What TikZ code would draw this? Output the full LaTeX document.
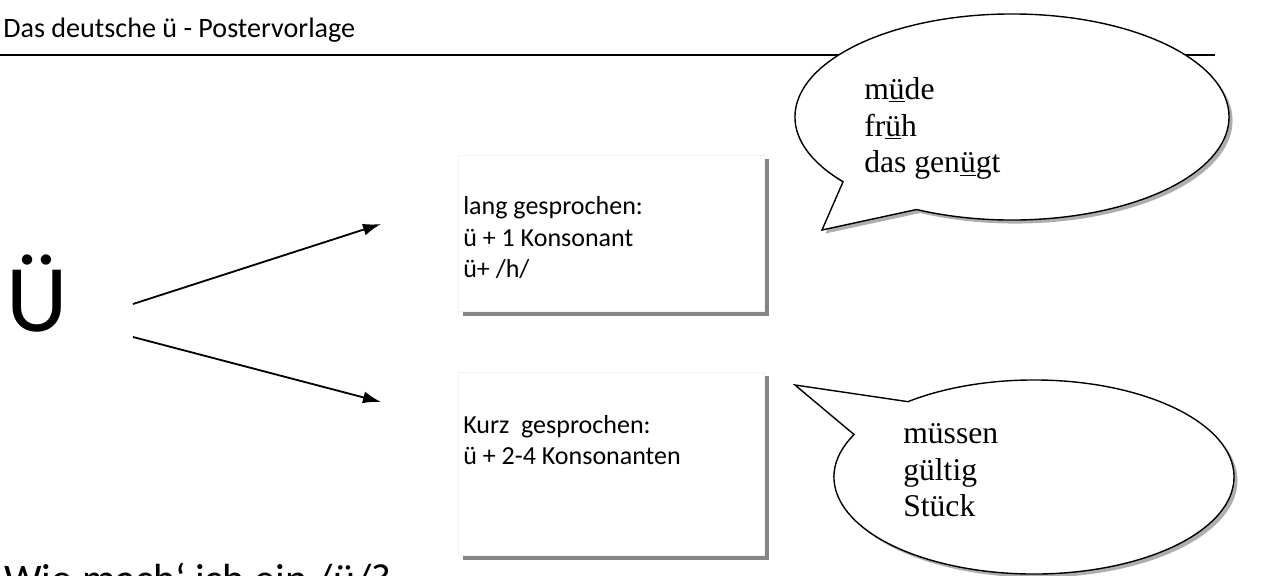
\documentclass[tikz,border=0pt]{standalone}
\usepackage{fontspec}
\setmainfont{Carlito}
\newfontfamily\bubfont{Liberation Serif}
\usetikzlibrary{arrows.meta,shapes.callouts,shadows}

\tikzset{
	card/.style={anchor=north west, fill=white, draw=black!5, minimum width=7.65cm,
		drop shadow={shadow xshift=3pt, shadow yshift=-3pt, opacity=.6, fill=black!80}},
	bubble/.style={ellipse callout, draw, line width=1pt, fill=white, inner sep=0pt,
		callout pointer arc=25,
		drop shadow={shadow xshift=2.5pt, shadow yshift=-2.5pt, opacity=.45, fill=black!70}},
	cardtext/.style={anchor=base west, align=left, inner sep=0pt,
		font=\fontsize{18.5}{22.5}\selectfont},
	bubtext/.style={anchor=base west, align=left, inner sep=0pt,
		font=\bubfont\fontsize{22.5}{26.2}\selectfont},
	arr/.style={-{Latex[length=4.5mm,width=3mm]}, line width=1.3pt}
}

\begin{document}
\begin{tikzpicture}[x=0.025cm,y=-0.025cm]
		\useasboundingbox (0,0) rectangle (1277,576);
		\clip (0,0) rectangle (1277,576);
	% title
		\node [anchor=base west, inner sep=0pt, font=\fontsize{20}{24}\selectfont] (title) at (3,38) {Das deutsche ü - Postervorlage};
		\draw [line width=1.4pt] (0,55) -- (1215,55);
	% big letter
		\node [anchor=base west, inner sep=0pt, font=\fontsize{68}{80}\selectfont] (uu) at (6,332) {Ü};
		\node [anchor=base west, inner sep=0pt, font=\fontsize{30}{34}\selectfont] (frage) at (4,593) {Wie mach‘ ich ein /ü/?};
	% cards (base = last line)
		\node [card, minimum height=3.9cm] (lang) at (458,155) {};
		\node [card, minimum height=4.575cm] (kurz) at (458,372) {};
		\node [cardtext] (langtext) at (463,278) {lang gesprochen:\\ü + 1 Konsonant\\ü+ /h/};
		\node [cardtext] (kurztext) at (463,465) {Kurz\ \ gesprochen:\\ü + 2-4 Konsonanten};
	% arrows
		\coordinate (up-start) at (133,304);
		\coordinate (up-end) at (381,224);
		\coordinate (down-start) at (133,337);
		\coordinate (down-end) at (381,402);
		\draw [arr] (up-start) -- (up-end);
		\draw [arr] (down-start) -- (down-end);
	% bubbles
		\node [bubble, minimum width=10.85cm, minimum height=5.15cm, callout absolute pointer={(822,230)}] (langbub) at (1012,117) {};
		\node [bubble, minimum width=10cm, minimum height=4.85cm, callout absolute pointer={(795,385)}] (kurzbub) at (1034,477) {};
		\node [bubtext] (langwords) at (864,173) {m\underline{ü}de\\fr\underline{ü}h\\das gen\underline{ü}gt};
		\node [bubtext] (kurzwords) at (903,517) {müssen\\gültig\\Stück};
\end{tikzpicture}
\end{document}
